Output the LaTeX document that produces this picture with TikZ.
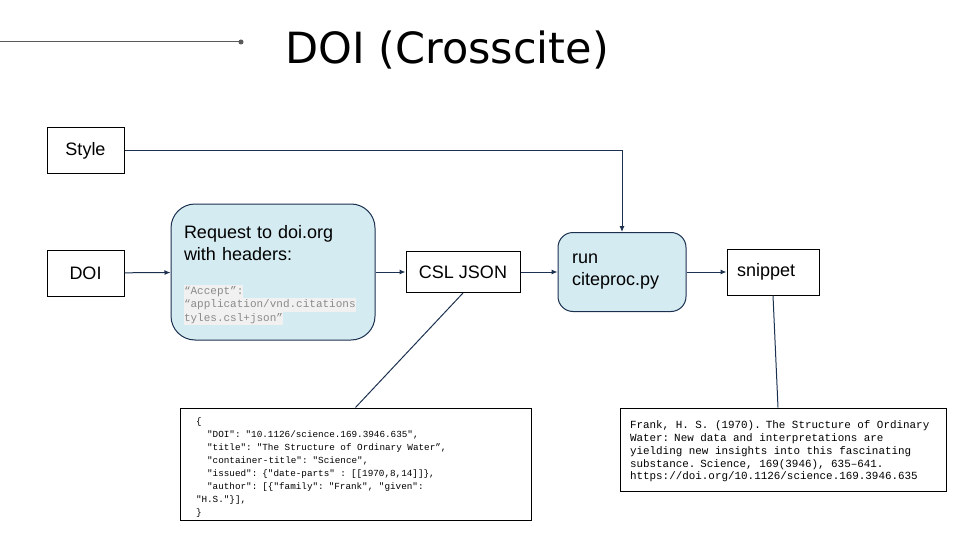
\documentclass[tikz,border=0pt]{standalone}
\usepackage{fontspec}
\setmainfont{Liberation Sans}
\setmonofont{Liberation Mono}
\newfontfamily\titlefont{DejaVu Sans}
\usetikzlibrary{positioning,arrows.meta}

\definecolor{navy}{HTML}{1C3150}
\definecolor{paleblue}{HTML}{D4EBF2}
\definecolor{hdrgray}{HTML}{8A8A8A}
\definecolor{hdrbg}{HTML}{F1F1F1}
\definecolor{rulegray}{HTML}{595959}
\newcommand{\hdr}[1]{\colorbox{hdrbg}{\strut #1}}
\newcommand{\ind}{\hspace*{1.2em}}
\newcommand{\codefont}[2]{\ttfamily\fontsize{#1}{#2}\selectfont\spaceskip=\fontdimen2\font\relax}

\begin{document}
\begin{tikzpicture}[x=1pt, y=-1pt,
    box/.style={draw=black, line width=1pt, minimum width=77pt, minimum height=46pt, inner sep=0pt, font=\fontsize{18}{22}\selectfont},
    process/.style={draw=navy, fill=paleblue, line width=1pt, font=\fontsize{18}{22}\selectfont},
    codebox/.style={draw=black, line width=1pt, align=left, inner ysep=4pt},
    link/.style={draw=navy, line width=1pt, -{Latex[length=6pt,width=5pt]}},
    pin/.style={draw=navy, line width=1pt}]
  \useasboundingbox (0,0) rectangle (960,540);
  % title and rule
  \node [anchor=base, font=\titlefont\fontsize{43}{50}\selectfont] (title) at (447,64) {DOI (Crosscite)};
  \coordinate (ruleend) at (241,42);
  \draw [rulegray, line width=1pt] (0,42) -- (ruleend);
  \fill [rulegray] (ruleend) circle (2.5pt);
  % inputs
  \node [box] (style) at (85.5,151) {Style};
  \node [box, below=75pt of style] (doi) {DOI};
  % pipeline
  \node [process, rounded corners=24pt, minimum width=204pt, minimum height=136pt, text width=178pt, align=left] (request) at (273,272) {\rule{0pt}{20pt}Request to doi.org\\with headers:\par\vspace{20pt}%
    {\codefont{11}{13.5}\color{hdrgray}\setlength{\fboxsep}{0pt}%
    \hdr{“Accept”:}\\\hdr{“application/vnd.citations}\\\hdr{tyles.csl+json”}\par}};
  \node [box, minimum width=114pt, minimum height=41pt, right=30pt of request] (csljson) {CSL JSON};
  \node [process, rounded corners=15pt, minimum width=128pt, minimum height=79pt, text width=100pt, align=left, right=37pt of csljson] (citeproc) {run\\citeproc.py};
  \node [box, minimum width=92pt, text width=72pt, align=left, right=40pt of citeproc] (snippet) {snippet};
  % \node [box, below=of snippet] (html) {html};
  % code boxes
  \node [codebox, inner xsep=16pt, inner ysep=2pt, text width=319pt, minimum height=112pt] (cslcode) at (355.5,464)
    {\codefont{9.3}{12.9}%
    \rule{0pt}{14pt}\{\\
    \ind"DOI": "10.1126/science.169.3946.635",\\
    \ind"title": "The Structure of Ordinary Water”,\\
    \ind"container-title": "Science",\\
    \ind"issued": \{"date-parts" : [[1970,8,14]]\},\\
    \ind"author": [\{"family": "Frank", "given":\\
    "H.S."\}],\\
    \}\par};
  \node [codebox, inner xsep=10pt, text width=306pt, minimum height=83pt] (snipcode) at (783,449.5)
    {\codefont{10.9}{12.7}%
    \rule{0pt}{12pt}Frank, H. S. (1970). The Structure of Ordinary\\
    Water: New data and interpretations are\\
    yielding new insights into this fascinating\\
    substance. Science, 169(3946), 635–641.\\
    https://doi.org/10.1126/science.169.3946.635\par};
  % connectors
  \draw [link] (style.east) -| (citeproc.north);
  \draw [link] (doi) -- (request);
  \draw [link] (request) -- (csljson);
  \draw [link] (csljson) -- (citeproc);
  \draw [link] (citeproc) -- (snippet);
  \draw [pin] (csljson.south) -- (cslcode.north);
  \draw [pin] (snippet.south) -- ([xshift=-5pt]snipcode.north);
\end{tikzpicture}
\end{document}
